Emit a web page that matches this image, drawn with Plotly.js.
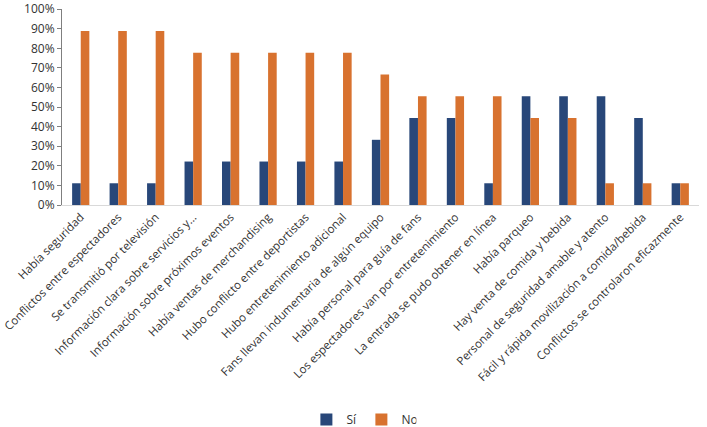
<!DOCTYPE html>
<html>
<head>
<meta charset="utf-8">
<script src="https://cdn.plot.ly/plotly-3.0.1.min.js"></script>
<style>
  html, body { margin: 0; padding: 0; background: #fff; }
  #chart { width: 707px; height: 427px; }
</style>
</head>
<body>
<div id="chart"></div>
<script>
const categories = [
    'Había seguridad',
    'Conflictos entre espectadores',
    'Se transmitió por televisión',
    'Información clara sobre servicios y...',
    'Información sobre próximos eventos',
    'Había ventas de merchandising',
    'Hubo conflicto entre deportistas',
    'Hubo entretenimiento adicional',
    'Fans llevan indumentaria de algún equipo',
    'Había personal para guía de fans',
    'Los espectadores van por entretenimiento',
    'La entrada se pudo obtener en línea',
    'Había parqueo',
    'Hay venta de comida y bebida',
    'Personal de seguridad amable y atento',
    'Fácil y rápida movilización a comida/bebida',
    'Conflictos se controlaron eficazmente'
];

const si = [0.111, 0.111, 0.111, 0.222, 0.222, 0.222, 0.222, 0.222, 0.333,
            0.444, 0.444, 0.111, 0.556, 0.556, 0.556, 0.444, 0.111];
const no = [0.889, 0.889, 0.889, 0.778, 0.778, 0.778, 0.778, 0.778, 0.667,
            0.556, 0.556, 0.556, 0.444, 0.444, 0.111, 0.111, 0.111];

const yTicks = [0, 0.1, 0.2, 0.3, 0.4, 0.5, 0.6, 0.7, 0.8, 0.9, 1.0];
const yLabels = ['0%', '10%', '20%', '30%', '40%', '50%', '60%', '70%', '80%', '90%', '100%'];

const data = [
    {
        x: categories,
        y: si,
        type: 'bar',
        name: 'Sí',
        marker: { color: '#284779' }
    },
    {
        x: categories,
        y: no,
        type: 'bar',
        name: 'No',
        marker: { color: '#D8722F' }
    }
];

const layout = {
    width: 707,
    height: 427,
    margin: { l: 62, r: 8, t: 9, b: 222, autoexpand: false },
    paper_bgcolor: '#ffffff',
    plot_bgcolor: '#ffffff',
    font: { family: 'Open Sans, sans-serif', size: 12, color: '#333333' },
    barmode: 'group',
    bargap: 0.54,
    bargroupgap: 0,
    showlegend: true,
    legend: {
        orientation: 'h',
        x: 0.47,
        xanchor: 'center',
        y: -1.095,
        yanchor: 'middle',
        font: { size: 12, color: '#333333' },
        itemwidth: 30,
        entrywidthmode: 'pixels',
        entrywidth: 10
    },
    xaxis: {
        type: 'category',
        tickangle: -45,
        automargin: false,
        showline: true,
        linecolor: '#d9d9d9',
        linewidth: 1,
        ticks: '',
        showgrid: false,
        tickfont: { size: 11.5, color: '#333333' }
    },
    yaxis: {
        range: [0, 1.001],
        tickvals: yTicks,
        ticktext: yLabels,
        automargin: false,
        showline: true,
        linecolor: '#7f7f7f',
        linewidth: 1,
        ticks: 'outside',
        ticklen: 4,
        tickcolor: '#7f7f7f',
        showgrid: false,
        zeroline: false,
        tickfont: { size: 12, color: '#333333' }
    }
};

Plotly.newPlot('chart', data, layout, { displayModeBar: false, staticPlot: true });
</script>
</body>
</html>
